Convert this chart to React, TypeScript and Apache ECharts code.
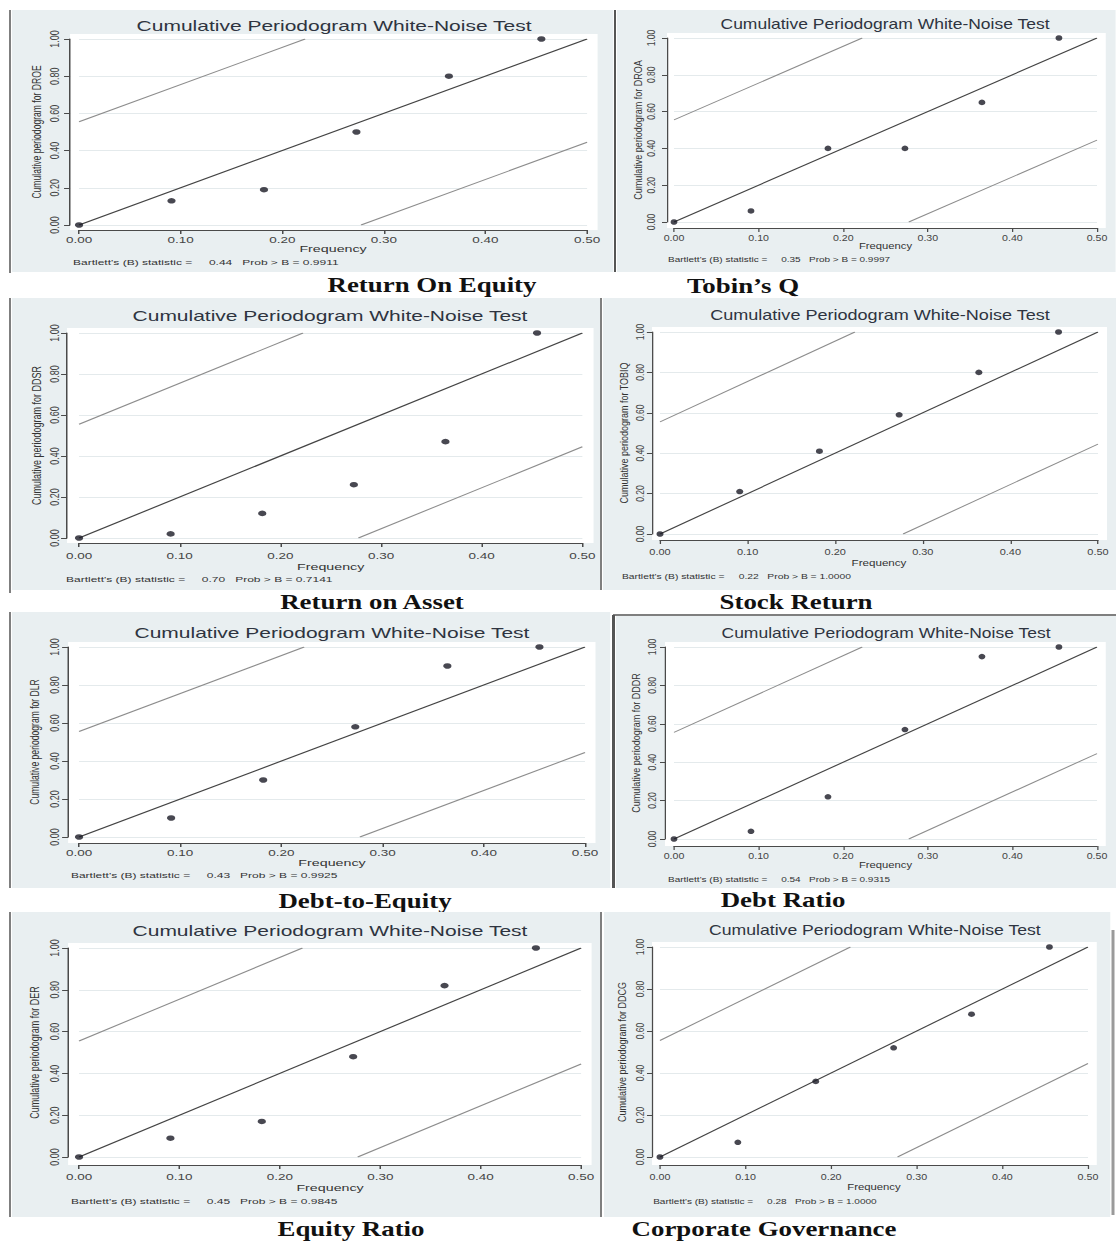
import React, { useEffect, useRef } from "react";
import * as echarts from "echarts";

// ---------------- data ----------------
const FREQUENCY = [0, 0.091, 0.182, 0.273, 0.364, 0.455];
const CP_DROE = [0, 0.13, 0.19, 0.5, 0.8, 1.0];
const CP_DROA = [0, 0.06, 0.4, 0.4, 0.65, 1.0];
const CP_DDSR = [0, 0.02, 0.12, 0.26, 0.47, 1.0];
const CP_TOBIQ = [0, 0.21, 0.41, 0.59, 0.8, 1.0];
const CP_DLR = [0, 0.1, 0.3, 0.58, 0.9, 1.0];
const CP_DDDR = [0, 0.04, 0.22, 0.57, 0.95, 1.0];
const CP_DER = [0, 0.09, 0.17, 0.48, 0.82, 1.0];
const CP_DDCG = [0, 0.07, 0.36, 0.52, 0.68, 1.0];

const SERIES_VALUES = [CP_DROE, CP_DROA, CP_DDSR, CP_TOBIQ, CP_DLR, CP_DDDR, CP_DER, CP_DDCG];
const VARIABLES = ["DROE", "DROA", "DDSR", "TOBIQ", "DLR", "DDDR", "DER", "DDCG"];
const CAPTIONS = [
  "Return On Equity",
  "Tobin\u2019s Q",
  "Return on Asset",
  "Stock Return",
  "Debt-to-Equity",
  "Debt Ratio",
  "Equity Ratio",
  "Corporate Governance",
];
const B_STATS = ["0.44", "0.35", "0.70", "0.22", "0.43", "0.54", "0.45", "0.28"];
const B_PROBS = ["0.9911", "0.9997", "0.7141", "1.0000", "0.9925", "0.9315", "0.9845", "1.0000"];

const DIAGONAL = [[0, 0], [0.5, 1]];
const UPPER_BAND = [[0, 0.555], [0.2225, 1]];
const LOWER_BAND = [[0.2775, 0], [0.5, 0.445]];

const X_MIN = 0, X_MAX = 0.5, X_STEP = 0.1;
const Y_MIN = 0, Y_MAX = 1, Y_STEP = 0.2;

const TITLE = "Cumulative Periodogram White-Noise Test";
const X_NAME = "Frequency";

// ---------------- layout / style ----------------
const PANEL_BG = "#e9eff1";
const FONT = '"Liberation Sans", Arial, sans-serif';

type Layout = {
  x: number; y: number; w: number; h: number; sx: number;
  left: number; top: number; width: number; height: number;
  yOff: number; xOff: number;
  titleX: number; titleY: number;
  bartX: number; bartY: number;
  xLabelMargin: number; xNameGap: number;
  yLabelMargin: number; yNameGap: number;
  tickFont: number; yNameFont: number; xNameFont: number;
};

const LAYOUTS: Layout[] = [
  { x: 12, y: 10, w: 601, h: 262, sx: 1.5, left: 44.7, top: 29, width: 338.7, height: 186, yOff: 6, xOff: 5, titleX: 214.7, titleY: 16, bartX: 40.7, bartY: 252, xLabelMargin: 5, xNameGap: 14, yLabelMargin: 6, yNameGap: 18, tickFont: 9, yNameFont: 8.6, xNameFont: 9.5 },
  { x: 617, y: 10, w: 499, h: 262, sx: 1.25, left: 45.6, top: 28, width: 338.4, height: 184, yOff: 5.6, xOff: 6, titleX: 214.4, titleY: 14, bartX: 40.8, bartY: 249, xLabelMargin: 5, xNameGap: 13.5, yLabelMargin: 8, yNameGap: 18.5, tickFont: 8.5, yNameFont: 9, xNameFont: 9 },
  { x: 12, y: 298, w: 588, h: 292, sx: 1.5, left: 44.7, top: 35, width: 336, height: 205, yOff: 8, xOff: 5, titleX: 212, titleY: 18, bartX: 36, bartY: 281, xLabelMargin: 8, xNameGap: 18.5, yLabelMargin: 4, yNameGap: 16, tickFont: 9, yNameFont: 9, xNameFont: 9.5 },
  { x: 603, y: 298, w: 513, h: 292, sx: 1.29, left: 44.2, top: 34, width: 339.5, height: 202, yOff: 6.2, xOff: 6, titleX: 214.7, titleY: 17, bartX: 14.7, bartY: 278, xLabelMargin: 7.5, xNameGap: 18, yLabelMargin: 5, yNameGap: 17, tickFont: 8.5, yNameFont: 9, xNameFont: 9 },
  { x: 12, y: 612, w: 598, h: 276, sx: 1.5, left: 44.7, top: 35, width: 337.3, height: 190, yOff: 7.3, xOff: 6, titleX: 213.3, titleY: 21, bartX: 39.3, bartY: 263, xLabelMargin: 5.5, xNameGap: 15, yLabelMargin: 5, yNameGap: 18, tickFont: 9, yNameFont: 8.6, xNameFont: 9.5 },
  { x: 616, y: 616, w: 500, h: 272, sx: 1.25, left: 46.4, top: 31, width: 338.4, height: 192, yOff: 7.2, xOff: 7, titleX: 216, titleY: 17, bartX: 41.6, bartY: 263, xLabelMargin: 5.5, xNameGap: 14, yLabelMargin: 6, yNameGap: 18.5, tickFont: 8.5, yNameFont: 9, xNameFont: 9 },
  { x: 12, y: 912, w: 588, h: 305, sx: 1.5, left: 44.7, top: 36, width: 334.7, height: 209, yOff: 7.3, xOff: 8, titleX: 212, titleY: 19, bartX: 39.3, bartY: 289, xLabelMargin: 7, xNameGap: 17.5, yLabelMargin: 5, yNameGap: 18, tickFont: 9, yNameFont: 9, xNameFont: 9.5 },
  { x: 604, y: 912, w: 507, h: 305, sx: 1.26, left: 44.4, top: 35, width: 339.7, height: 210, yOff: 6.3, xOff: 8, titleX: 215, titleY: 18, bartX: 39, bartY: 289, xLabelMargin: 7, xNameGap: 17.5, yLabelMargin: 5, yNameGap: 19, tickFont: 8.5, yNameFont: 9, xNameFont: 9 },
];

const CAPTION_POS = [
  [432, 285], [743, 286], [372, 602], [796, 602],
  [365, 901], [783, 900], [351, 1229], [764, 1229],
];

function buildOption(i: number) {
  const L = LAYOUTS[i];
  const values = SERIES_VALUES[i];
  const sp = "\u00a0";
  const bart = `Bartlett's (B) statistic =${sp.repeat(5)}${B_STATS[i]}${sp.repeat(3)}Prob > B = ${B_PROBS[i]}`;
  const axisColor = "#4a4a4a";
  return {
    animation: false,
    backgroundColor: PANEL_BG,
    grid: { left: L.left, top: L.top, width: L.width, height: L.height, containLabel: false },
    xAxis: {
      type: "value",
      min: X_MIN,
      max: X_MAX,
      interval: X_STEP,
      offset: L.xOff,
      name: X_NAME,
      nameLocation: "middle",
      nameGap: L.xNameGap,
      nameMoveOverlap: false,
      nameTextStyle: { fontFamily: FONT, fontSize: L.xNameFont, color: "#333" },
      axisLine: { show: true, onZero: false, lineStyle: { color: axisColor, width: 1 } },
      axisTick: { show: true, length: 4, lineStyle: { color: axisColor } },
      axisLabel: {
        margin: L.xLabelMargin,
        fontFamily: FONT,
        fontSize: L.tickFont,
        color: "#444",
        formatter: (v: number) => v.toFixed(2),
      },
      splitLine: { show: false },
    },
    yAxis: {
      type: "value",
      min: Y_MIN,
      max: Y_MAX,
      interval: Y_STEP,
      offset: L.yOff,
      name: `Cumulative periodogram for ${VARIABLES[i]}`,
      nameLocation: "middle",
      nameGap: L.yNameGap,
      nameMoveOverlap: false,
      nameTextStyle: { fontFamily: FONT, fontSize: L.yNameFont, color: "#333" },
      axisLine: { show: true, onZero: false, lineStyle: { color: axisColor, width: 1 } },
      axisTick: { show: true, length: 4, lineStyle: { color: axisColor } },
      axisLabel: {
        rotate: 90,
        margin: L.yLabelMargin,
        fontFamily: FONT,
        fontSize: L.tickFont,
        color: "#444",
        formatter: (v: number) => v.toFixed(2),
      },
      splitLine: { show: true, lineStyle: { color: "#e4eaec", width: 1 } },
    },
    graphic: [
      {
        type: "rect",
        z: -10,
        silent: true,
        shape: {
          x: L.left - L.yOff,
          y: L.top - 5,
          width: L.width + L.yOff + 7,
          height: L.height + 5 + L.xOff,
        },
        style: { fill: "#ffffff" },
      },
      {
        type: "text",
        x: L.titleX,
        y: L.titleY,
        silent: true,
        style: {
          text: TITLE,
          font: `14px ${FONT}`,
          fill: "#2e3440",
          textAlign: "center",
          textVerticalAlign: "middle",
        },
      },
      {
        type: "text",
        x: L.bartX,
        y: L.bartY,
        silent: true,
        style: {
          text: bart,
          font: `8px ${FONT}`,
          fill: "#333",
          textAlign: "left",
          textVerticalAlign: "middle",
        },
      },
    ],
    series: [
      {
        type: "line",
        data: UPPER_BAND,
        symbol: "none",
        silent: true,
        lineStyle: { color: "#8d8d8d", width: 1 },
        z: 2,
      },
      {
        type: "line",
        data: DIAGONAL,
        symbol: "none",
        silent: true,
        lineStyle: { color: "#444", width: 1.1 },
        z: 2,
      },
      {
        type: "line",
        data: LOWER_BAND,
        symbol: "none",
        silent: true,
        lineStyle: { color: "#8d8d8d", width: 1 },
        z: 2,
      },
      {
        type: "scatter",
        data: FREQUENCY.map((f, k) => [f, values[k]]),
        symbol: "circle",
        symbolSize: 5.5,
        silent: true,
        itemStyle: { color: "#1a1a26" },
        z: 3,
      },
    ],
  };
}

function Panel({ index }: { index: number }) {
  const ref = useRef<HTMLDivElement>(null);
  const L = LAYOUTS[index];
  useEffect(() => {
    if (!ref.current) return;
    const chart = echarts.init(ref.current, null, { renderer: "svg" });
    chart.setOption(buildOption(index) as any);
    return () => chart.dispose();
  }, [index]);
  return (
    <div
      ref={ref}
      style={{
        position: "absolute",
        left: L.x,
        top: L.y,
        width: L.w / L.sx,
        height: L.h,
        transform: `scaleX(${L.sx})`,
        transformOrigin: "0 0",
      }}
    />
  );
}

function Overlay() {
  const ref = useRef<HTMLDivElement>(null);
  useEffect(() => {
    if (!ref.current) return;
    const chart = echarts.init(ref.current, null, { renderer: "svg" });
    const lineStyle = (w: number, c = "#555") => ({ stroke: c, lineWidth: w });
    const borders = [
      { x1: 10, y1: 10, x2: 10, y2: 273, w: 1.5 },
      { x1: 10, y1: 298, x2: 10, y2: 593, w: 1.5 },
      { x1: 10, y1: 612, x2: 10, y2: 888, w: 1.5 },
      { x1: 10, y1: 912, x2: 10, y2: 1217, w: 1.5 },
      { x1: 615, y1: 10, x2: 615, y2: 272, w: 2 },
      { x1: 601, y1: 298, x2: 601, y2: 590, w: 1.5 },
      { x1: 613.5, y1: 615, x2: 613.5, y2: 888, w: 3 },
      { x1: 613, y1: 615, x2: 1116, y2: 615, w: 1.5 },
      { x1: 601, y1: 912, x2: 601, y2: 1217, w: 1.5 },
    ];
    const graphic: any[] = borders.map((b) => ({
      type: "line",
      silent: true,
      shape: { x1: b.x1, y1: b.y1, x2: b.x2, y2: b.y2 },
      style: lineStyle(b.w),
    }));
    graphic.push({
      type: "line",
      silent: true,
      shape: { x1: 1113, y1: 930, x2: 1113, y2: 1215 },
      style: lineStyle(3, "#9a9a9a"),
    });
    CAPTIONS.forEach((c, i) => {
      graphic.push({
        type: "text",
        x: CAPTION_POS[i][0],
        y: CAPTION_POS[i][1],
        scaleX: 1.28,
        silent: true,
        style: {
          text: c,
          font: 'bold 21px "Liberation Serif", "Times New Roman", serif',
          fill: "#111",
          textAlign: "center",
          textVerticalAlign: "middle",
        },
      });
    });
    chart.setOption({ animation: false, backgroundColor: "#ffffff", graphic } as any);
    return () => chart.dispose();
  }, []);
  return <div ref={ref} style={{ position: "absolute", left: 0, top: 0, width: 1116, height: 1241 }} />;
}

export default function App() {
  return (
    <div
      style={{
        position: "absolute",
        left: 0,
        top: 0,
        width: 1116,
        height: 1241,
        overflow: "hidden",
        background: "#fff",
      }}
    >
      <Overlay />
      {LAYOUTS.map((_, i) => (
        <Panel key={i} index={i} />
      ))}
    </div>
  );
}
